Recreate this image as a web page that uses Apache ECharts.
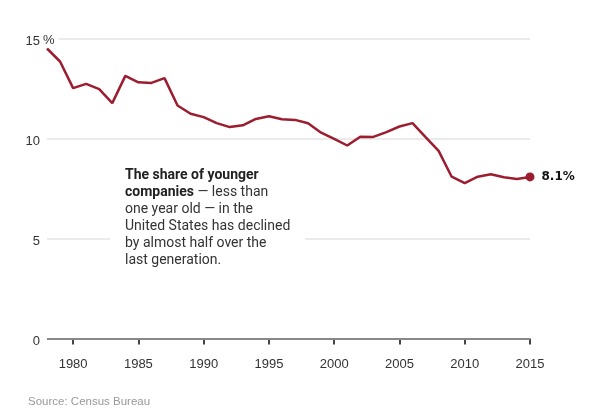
<!DOCTYPE html>
<html>
<head>
<meta charset="utf-8">
<script src="https://cdn.jsdelivr.net/npm/echarts@6/dist/echarts.min.js"></script>
<style>html,body{margin:0;padding:0;background:#fff}#c{width:602px;height:412px}</style>
</head>
<body>
<div id="c"></div>
<script>
const years = [1978,1979,1980,1981,1982,1983,1984,1985,1986,1987,1988,1989,1990,1991,1992,1993,1994,1995,1996,1997,1998,1999,2000,2001,2002,2003,2004,2005,2006,2007,2008,2009,2010,2011,2012,2013,2014,2015];
const share = [14.5,13.85,12.52,12.73,12.47,11.77,13.13,12.81,12.78,13.02,11.65,11.24,11.07,10.77,10.57,10.66,10.98,11.11,10.96,10.93,10.76,10.29,9.98,9.65,10.09,10.08,10.32,10.6,10.77,10.07,9.38,8.09,7.77,8.09,8.21,8.06,7.98,8.08];
const yTicks = [0,5,10,15];
const endLabel = '8.1%';
const annotationBold = ['The share of younger', 'companies'];
const annotationRest = [' — less than', 'one year old — in the', 'United States has declined', 'by almost half over the', 'last generation.'];

const chart = echarts.init(document.getElementById('c'));
const lineColor = '#9c1d2f';
const lastIdx = share.length - 1;
const baseFont = 'Liberation Sans, Arial, sans-serif';

chart.setOption({
  animation: false,
  grid: {left: 47, right: 72, top: 38.5, bottom: 73.5, containLabel: false},
  xAxis: {
    type: 'category',
    data: years.map(String),
    boundaryGap: false,
    offset: 4,
    axisLine: {show: false},
    axisTick: {show: true, length: 6, lineStyle: {color: '#444', width: 2},
      interval: (i, v) => Number(v) % 5 === 0, alignWithLabel: true},
    axisLabel: {interval: (i, v) => Number(v) % 5 === 0, margin: 15,
      color: '#333', fontSize: 13, fontFamily: baseFont},
    splitLine: {show: false}
  },
  yAxis: {
    type: 'value', min: 0, max: 15, interval: 5,
    axisLine: {show: false}, axisTick: {show: false},
    axisLabel: {margin: 7, color: '#333', fontSize: 13, fontFamily: baseFont,
      verticalAlign: 'top', lineHeight: 5,
      formatter: v => yTicks.includes(v) ? String(v) : ''},
    splitLine: {lineStyle: {color: ['#ffffff', '#ebebeb', '#ebebeb', '#ebebeb'], width: 2}}
  },
  series: [{
    type: 'line',
    data: share.map((v, i) => i === lastIdx ? {value: v, symbol: 'circle', symbolSize: 9,
      label: {show: true, position: 'right', distance: 7, formatter: endLabel, padding: [4, 0, 0, 0],
        fontWeight: 'bold', fontSize: 12, color: '#111', fontFamily: 'DejaVu Sans, sans-serif'}} : v),
    symbol: 'none',
    lineStyle: {color: lineColor, width: 2.5},
    itemStyle: {color: lineColor},
    markLine: {
      silent: true, symbol: 'none', label: {show: false},
      lineStyle: {color: '#888', width: 2, type: 'solid'},
      data: [{yAxis: 0}]
    },
    z: 3
  }]
});

const pctPos = chart.convertToPixel({yAxisIndex: 0}, 15);
const lines = [
  '{b|' + annotationBold[0] + '}',
  '{b|' + annotationBold[1] + '}{n|' + annotationRest[0] + '}',
  '{n|' + annotationRest[1] + '}',
  '{n|' + annotationRest[2] + '}',
  '{n|' + annotationRest[3] + '}',
  '{n|' + annotationRest[4] + '}'
];
chart.setOption({
  graphic: [
    {type: 'text', left: 43, top: pctPos - 6, z: 10,
      style: {text: '%', fill: '#333', font: '13px "Liberation Sans", Arial, sans-serif',
        backgroundColor: '#fff', padding: [1, 4, 1, 0]}},
    {type: 'text', left: 110, top: 161, z: 10,
      style: {
        text: lines.join('\n'),
        backgroundColor: '#fff',
        padding: [6, 15, 6, 15],
        rich: {
          b: {fontWeight: 'bold', fontSize: 14, lineHeight: 17, fill: '#222', fontFamily: 'Roboto, sans-serif'},
          n: {fontSize: 14, lineHeight: 17, fill: '#333', fontFamily: 'Roboto, sans-serif'}
        }
      }},
    {type: 'text', left: 28, top: 396, z: 10,
      style: {text: 'Source: Census Bureau', fill: '#999', font: '11.5px "Liberation Sans", Arial, sans-serif'}}
  ]
});
</script>
</body>
</html>
